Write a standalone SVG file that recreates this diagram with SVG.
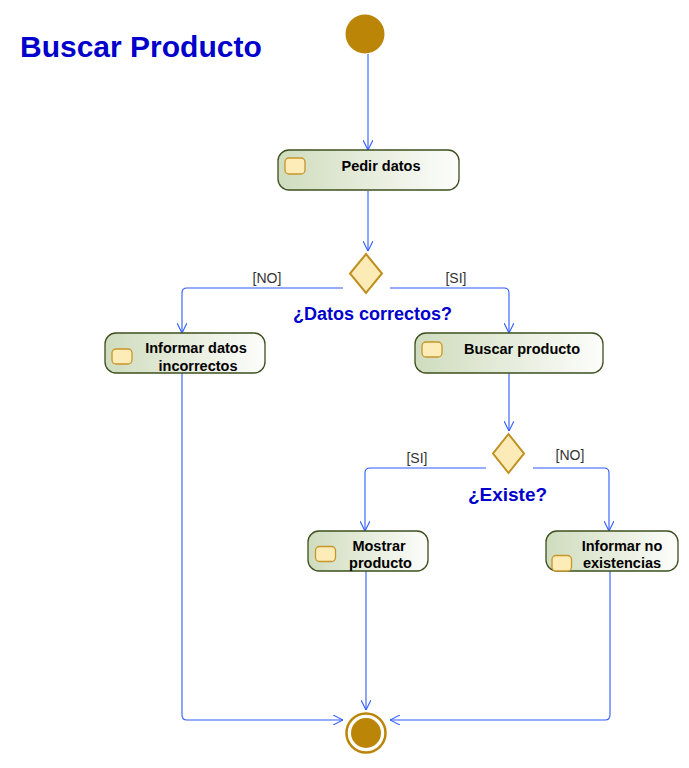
<svg xmlns="http://www.w3.org/2000/svg" width="689" height="768" viewBox="0 0 689 768">
<style>
.box{fill:url(#g);stroke:#3d4f1e;stroke-width:1.3}
.ic{fill:#feecb8;stroke:#c8952a;stroke-width:1.3}
.t{font-family:"Liberation Sans",Arial,sans-serif;font-weight:bold;font-size:14.5px;fill:#000;text-anchor:middle}
.g{font-family:"Liberation Sans",Arial,sans-serif;font-size:14px;fill:#333;text-anchor:middle}
.q{font-family:"Liberation Sans",Arial,sans-serif;font-weight:bold;font-size:18px;fill:#0000cc;text-anchor:middle}
.dia{fill:#fcebb6;stroke:#bf8f1f;stroke-width:2}
.c{fill:none;stroke:#2f5bff;stroke-width:1.1}
</style>
<defs>
<linearGradient id="g" x1="0" y1="0" x2="1" y2="0">
<stop offset="0" stop-color="#cfdcbd"/>
<stop offset="1" stop-color="#fdfdfb"/>
</linearGradient>
<marker id="a" viewBox="0 0 10 10" refX="10" refY="5" markerWidth="10" markerHeight="10" markerUnits="userSpaceOnUse" orient="auto">
<path d="M0,0 L10,5 L0,10" fill="none" stroke="#2f5bff" stroke-width="1.1"/>
</marker>
</defs>
<rect width="689" height="768" fill="#fff"/>
<text x="20" y="57" font-family="'Liberation Sans',Arial,sans-serif" font-weight="bold" font-size="30" fill="#0000cc">Buscar Producto</text>

<g id="connectors">
<path class="c" d="M368,54 V150" marker-end="url(#a)"/>
<path class="c" d="M368,191 V251" marker-end="url(#a)"/>
<path class="c" d="M343,288 H187 Q182,288 182,293 V333" marker-end="url(#a)"/>
<path class="c" d="M390,288 H504 Q509,288 509,293 V333" marker-end="url(#a)"/>
<path class="c" d="M509,373 V431" marker-end="url(#a)"/>
<path class="c" d="M486,468 H370 Q365,468 365,473 V531" marker-end="url(#a)"/>
<path class="c" d="M533,468 H604 Q609,468 609,473 V531" marker-end="url(#a)"/>
<path class="c" d="M182,373 V715 Q182,720 187,720 H343" marker-end="url(#a)"/>
<path class="c" d="M366,571 V710" marker-end="url(#a)"/>
<path class="c" d="M610,571 V715 Q610,720 605,720 H390" marker-end="url(#a)"/>
<text class="g" x="267" y="283">[NO]</text>
<text class="g" x="456" y="283">[SI]</text>
<text class="g" x="417" y="463">[SI]</text>
<text class="g" x="570" y="460">[NO]</text>
</g>

<g id="start"><circle cx="365" cy="34" r="19.5" fill="#bb8508"/></g>

<g id="pedir">
<rect class="box" x="278" y="150" width="181" height="40" rx="11"/>
<rect class="ic" x="285" y="158" width="20" height="16" rx="4"/>
<text class="t" x="381" y="171">Pedir datos</text>
</g>

<g id="dec1">
<polygon class="dia" points="366,254 382,273.5 366,293 350,273.5"/>
<text class="q" x="372.5" y="320">¿Datos correctos?</text>
</g>

<g id="informarIncorrectos">
<rect class="box" x="105" y="333" width="160" height="40" rx="11"/>
<rect class="ic" x="112" y="349" width="20" height="15" rx="4"/>
<text class="t" x="196" y="353">Informar datos</text>
<text class="t" x="198" y="370.5">incorrectos</text>
</g>

<g id="buscar">
<rect class="box" x="415" y="333" width="188" height="40" rx="11"/>
<rect class="ic" x="422" y="342" width="20" height="15" rx="4"/>
<text class="t" x="522" y="354">Buscar producto</text>
</g>

<g id="dec2">
<polygon class="dia" points="508.5,434 524,453.5 508.5,473 493,453.5"/>
<text class="q" x="507.5" y="501" style="font-size:19px">¿Existe?</text>
</g>

<g id="mostrar">
<rect class="box" x="308" y="531" width="120" height="40" rx="11"/>
<rect class="ic" x="315.5" y="546.5" width="20" height="15" rx="4"/>
<text class="t" x="379" y="551">Mostrar</text>
<text class="t" x="380.5" y="568">producto</text>
</g>

<g id="informarNo">
<rect class="box" x="546" y="531" width="132" height="40" rx="11"/>
<rect class="ic" x="552" y="555.5" width="19.5" height="15.5" rx="4"/>
<text class="t" x="622" y="551">Informar no</text>
<text class="t" x="622" y="568">existencias</text>
</g>

<g id="end">
<circle cx="366" cy="733" r="19.5" fill="none" stroke="#bb8508" stroke-width="2.5"/>
<circle cx="366" cy="733" r="15" fill="#bb8508"/>
</g>
</svg>
